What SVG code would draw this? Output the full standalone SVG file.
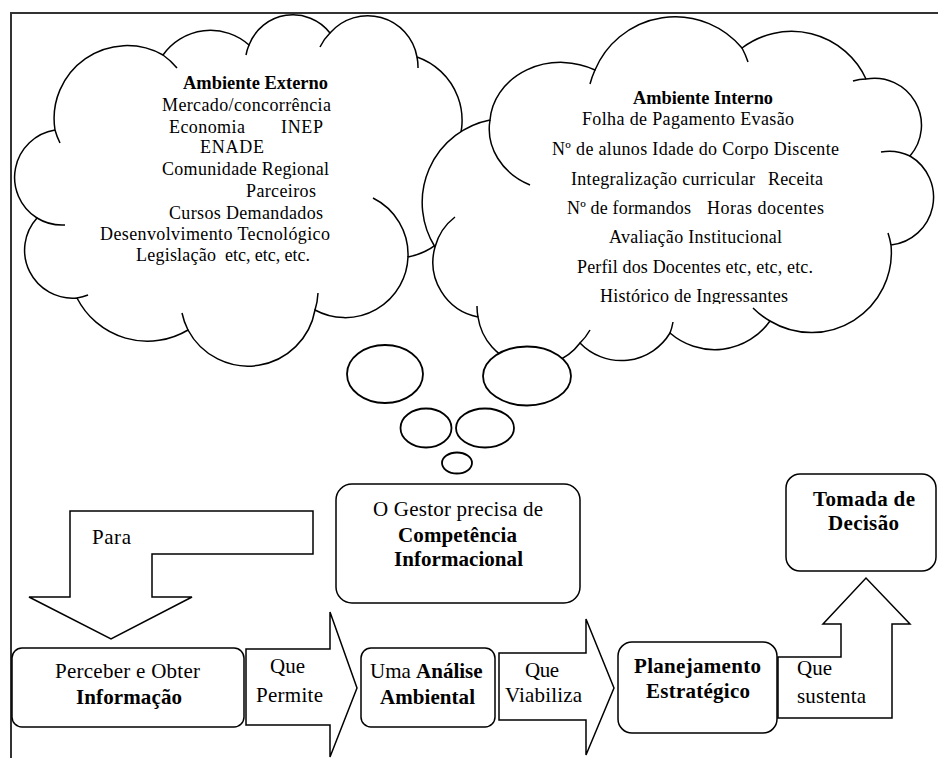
<svg xmlns="http://www.w3.org/2000/svg" width="938" height="758" viewBox="0 0 938 758" font-family="'Liberation Serif', 'Times New Roman', 'DejaVu Serif', serif">
<style>
.ln{fill:#fff;stroke:#000;stroke-width:1.5}
.in{fill:none;stroke:#000;stroke-width:1.5}
.bub{fill:#fff;stroke:#000;stroke-width:1.8}
.t{fill:#000}
.c{font-size:18px}
.s{font-size:21px}
.b{font-weight:bold}
</style>
<defs>
<clipPath id="clipHist"><rect x="540" y="280" width="300" height="24"/></clipPath>
</defs>
<rect x="0" y="0" width="938" height="758" fill="#fff"/>
<rect id="frame" x="11" y="13" width="940" height="760" fill="none" stroke="#333" stroke-width="2"/>

<g id="cloud-externo">
<path class="ln" d="M55 130 A73 73 0 0 1 163 55 A58 58 0 0 1 249 45 A47 47 0 0 1 330 33 A50 50 0 0 1 417 57 A67 67 0 0 1 453 154 A68 68 0 0 1 408 257 A63 63 0 0 1 315 310 A68 68 0 0 1 188 330 A79 79 0 0 1 77 298 A48 48 0 0 1 37 218 A48 48 0 0 1 55 130 Z"/>
<path class="in" d="M60 143 A73 73 0 0 1 55 130 M163 55 A73 73 0 0 1 177 68 M246 55 A47 47 0 0 1 249 45 M320 47 A50 50 0 0 1 330 33 M417 57 A50 50 0 0 1 418 68 M373 198 A63 63 0 0 1 408 257 M318 293 A68 68 0 0 1 315 310 M188 330 A68 68 0 0 1 182 313 M88 295 A48 48 0 0 1 77 298 M65 225 A48 48 0 0 1 37 218"/>
<g class="t c" font-family="'Liberation Serif', 'Times New Roman', 'DejaVu Serif', serif">
<text class="b" x="183" y="89" textLength="145" lengthAdjust="spacingAndGlyphs">Ambiente Externo</text>
<text x="162" y="111" textLength="169">Mercado/concorrência</text>
<text y="133"><tspan x="169" textLength="76">Economia</tspan><tspan x="281" textLength="42">INEP</tspan></text>
<text x="200" y="153" textLength="64">ENADE</text>
<text x="162" y="175" textLength="167">Comunidade Regional</text>
<text x="246" y="197" textLength="70">Parceiros</text>
<text x="169" y="219" textLength="154">Cursos Demandados</text>
<text x="100" y="240" textLength="230">Desenvolvimento Tecnológico</text>
<text y="261"><tspan x="136" textLength="80">Legislação</tspan><tspan x="225" textLength="85">etc, etc, etc.</tspan></text>
</g>
</g>

<g id="cloud-interno">
<path class="ln" d="M490 120 A71 62 0 0 1 595 70 A87 87 0 0 1 742 48 A82 82 0 0 1 866 79 A47 47 0 0 1 910 156 A48 48 0 0 1 891 245 A80 80 0 0 1 770 321 A68 68 0 0 1 670 333 A57 57 0 0 1 580 343 A57 57 0 0 1 478 317 A56 56 0 0 1 435 247 A84 84 0 0 1 490 120 Z"/>
<path class="in" d="M530 185 A71 62 0 0 1 490 120 M590 84 A87 87 0 0 1 595 70 M742 48 A87 87 0 0 1 748 62 M853 81 A47 47 0 0 1 866 79 M881 152 A48 48 0 0 1 910 156 M888 233 A80 80 0 0 1 891 245 M770 321 A80 80 0 0 1 753 308 M673 322 A57 57 0 0 1 670 333 M590 330 A57 57 0 0 1 580 343 M478 317 A57 57 0 0 1 477 306 M435 247 A56 56 0 0 1 455 217"/>
<g class="t c" font-family="'Liberation Serif', 'Times New Roman', 'DejaVu Serif', serif">
<text class="b" x="633" y="104" textLength="140" lengthAdjust="spacingAndGlyphs">Ambiente Interno</text>
<text x="582" y="125" textLength="212">Folha de Pagamento Evasão</text>
<text x="552" y="155" textLength="287">Nº de alunos Idade do Corpo Discente</text>
<text y="185"><tspan x="571" textLength="184">Integralização curricular</tspan><tspan x="768" textLength="55">Receita</tspan></text>
<text y="214"><tspan x="567" textLength="124">Nº de formandos</tspan><tspan x="707" textLength="117">Horas docentes</tspan></text>
<text x="609" y="243" textLength="173">Avaliação Institucional</text>
<text x="577" y="273" textLength="236">Perfil dos Docentes etc, etc, etc.</text>
<text x="600" y="302" textLength="188" clip-path="url(#clipHist)">Histórico de Ingressantes</text>
</g>
</g>

<g id="bolhas">
<ellipse class="bub" cx="385" cy="374" rx="38" ry="29"/>
<ellipse class="bub" cx="527" cy="376" rx="44" ry="29.5"/>
<ellipse class="bub" cx="426" cy="428" rx="25.5" ry="19.5"/>
<ellipse class="bub" cx="485" cy="428" rx="29" ry="19.5"/>
<ellipse class="bub" cx="457" cy="463" rx="15" ry="10.5"/>
</g>

<g id="gestor" font-family="'Liberation Serif', 'Times New Roman', 'DejaVu Serif', serif">
<rect class="ln" x="336" y="484" width="244" height="119" rx="16"/>
<text class="t s" x="373" y="516" textLength="170">O Gestor precisa de</text>
<text class="t s b" x="398" y="542" textLength="119">Competência</text>
<text class="t s b" x="394" y="566" textLength="129">Informacional</text>
</g>

<g id="perceber" font-family="'Liberation Serif', 'Times New Roman', 'DejaVu Serif', serif">
<rect class="ln" x="12" y="648" width="232" height="79" rx="10"/>
<text class="t s" x="55" y="678" textLength="145">Perceber e Obter</text>
<text class="t s b" x="76" y="704" textLength="106">Informação</text>
</g>

<g id="analise" font-family="'Liberation Serif', 'Times New Roman', 'DejaVu Serif', serif">
<rect class="ln" x="361" y="648" width="134" height="79" rx="10"/>
<text class="t s" x="370" y="678">Uma <tspan class="b">Análise</tspan></text>
<text class="t s b" x="380" y="704" textLength="95">Ambiental</text>
</g>

<g id="planejamento" font-family="'Liberation Serif', 'Times New Roman', 'DejaVu Serif', serif">
<rect class="ln" x="618" y="642" width="159" height="91" rx="14"/>
<text class="t s b" x="634" y="673" textLength="127">Planejamento</text>
<text class="t s b" x="646" y="698" textLength="104">Estratégico</text>
</g>

<g id="tomada" font-family="'Liberation Serif', 'Times New Roman', 'DejaVu Serif', serif">
<rect class="ln" x="786" y="474" width="150" height="97" rx="14"/>
<text class="t s b" x="813" y="506" textLength="102">Tomada de</text>
<text class="t s b" x="828" y="530" textLength="71">Decisão</text>
</g>

<g id="connectors" font-family="'Liberation Serif', 'Times New Roman', 'DejaVu Serif', serif">
<g id="seta-para">
<polygon class="ln" points="70,511 313,511 313,554 152,554 152,597 192,597 111,639 29,597 70,597"/>
<text class="t s" x="92" y="544" textLength="39">Para</text>
</g>
<g id="seta-permite">
<polygon class="ln" points="246,649 330,649 330,612 357,688 330,757 330,725 246,725"/>
<text class="t s" x="270" y="673" textLength="35">Que</text>
<text class="t s" x="256" y="702" textLength="67">Permite</text>
</g>
<g id="seta-viabiliza">
<polygon class="ln" points="499,653 586,653 586,619 614,688 586,755 586,720 499,720"/>
<text class="t s" x="525" y="677" textLength="34">Que</text>
<text class="t s" x="505" y="702" textLength="77">Viabiliza</text>
</g>
<g id="seta-sustenta">
<polygon class="ln" points="778,657 841,657 841,624 823,624 866,578 910,624 892,624 892,718 778,718"/>
<text class="t s" x="797" y="675" textLength="35">Que</text>
<text class="t s" x="797" y="703" textLength="69">sustenta</text>
</g>
</g>
</svg>
